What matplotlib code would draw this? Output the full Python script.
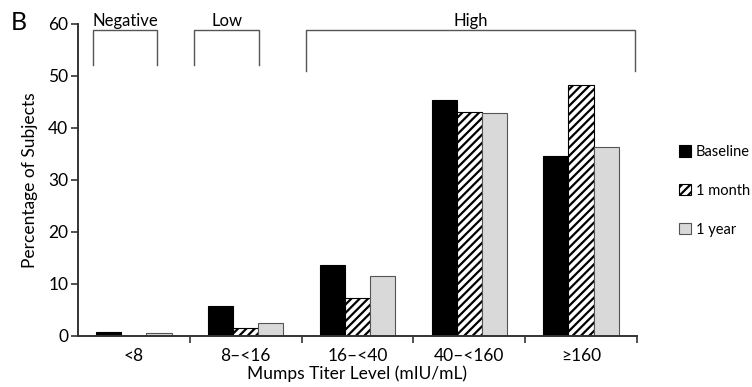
import matplotlib
matplotlib.use("Agg")
import matplotlib.pyplot as plt
import numpy as np

categories = ["<8", "8\u2013<16", "16\u2013<40", "40\u2013<160", "\u2265160"]
baseline = [0.8, 5.8, 13.7, 45.4, 34.7]
one_month = [0.0, 1.5, 7.4, 43.0, 48.3]
one_year = [0.5, 2.5, 11.5, 42.8, 36.3]
series_names = ["Baseline", "1 month", "1 year"]
groups = [("Negative", -0.37, 0.21), ("Low", 0.54, 1.12), ("High", 1.54, 4.48)]
group_bottoms = [52.1, 52.1, 51.0]

plt.rcParams['font.family'] = ['Lato', 'DejaVu Sans']
plt.rcParams['hatch.linewidth'] = 1.6

fig = plt.figure(figsize=(7.52, 3.87), dpi=100)
ax = fig.add_axes([0.1037, 0.1318, 0.7433, 0.8062])

x = np.arange(len(categories))
w = 0.225
ax.bar(x - w, baseline, w, color='black', edgecolor='black', linewidth=0.8, label=series_names[0])
ax.bar(x, one_month, w, color='white', edgecolor='black', hatch='////', linewidth=0.8, label=series_names[1])
ax.bar(x + w, one_year, w, color='#d9d9d9', edgecolor='#555555', linewidth=0.8, label=series_names[2])

ax.set_xlim(-0.5, 4.5)
ax.set_ylim(0, 60)
ax.set_yticks([0, 10, 20, 30, 40, 50, 60])
ax.set_xticks(x)
ax.set_xticklabels(categories, fontsize=12.5)
ax.set_xticks(np.arange(0.5, 5.0, 1.0), minor=True)
ax.tick_params(axis='x', which='major', length=0, pad=9)
ax.tick_params(axis='x', which='minor', length=5, width=1.2, direction='out', color='#333333')
ax.tick_params(axis='y', length=5, width=1.2, direction='out', color='#333333', labelsize=12.5, pad=2)
for s in ['top', 'right']:
    ax.spines[s].set_visible(False)
for s in ['left', 'bottom']:
    ax.spines[s].set_linewidth(1.4)
    ax.spines[s].set_color('#333333')

ax.set_ylabel("Percentage of Subjects", fontsize=12.5, labelpad=7)
ax.set_xlabel("Mumps Titer Level (mIU/mL)", fontsize=12.5, labelpad=1)

for (name, x0, x1), yb in zip(groups, group_bottoms):
    ax.plot([x0, x0, x1, x1], [yb, 58.8, 58.8, yb], color='#555555', lw=1.0, clip_on=False)
    ax.text((x0 + x1) / 2, 59.0, name, ha='center', va='bottom', fontsize=12, clip_on=False)

leg = ax.legend(loc='center left', bbox_to_anchor=(1.075, 0.465), frameon=False,
                fontsize=10.5, handlelength=0.8, handleheight=0.8, labelspacing=1.7,
                handletextpad=0.35, borderaxespad=0, borderpad=0)

fig.text(0.014, 0.942, "B", fontsize=18, va='center', ha='left')

fig.savefig("out.png", dpi=100)
